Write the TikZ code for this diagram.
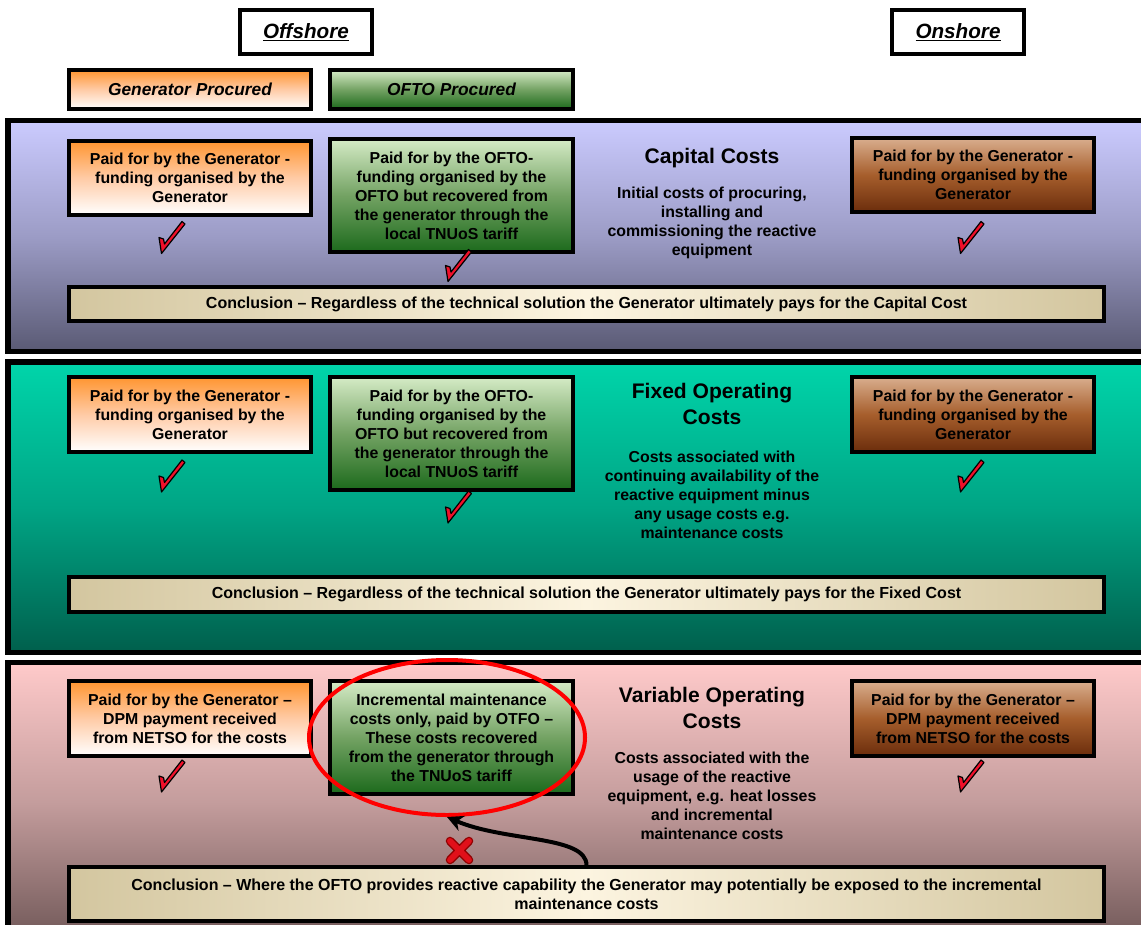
\documentclass[tikz,border=0pt]{standalone}
\usepackage{fontspec}
\setmainfont{Liberation Sans}
\usetikzlibrary{shapes.geometric,arrows.meta}
\definecolor{genT}{HTML}{FF9530}
\definecolor{genM}{HTML}{FFCBA6}
\definecolor{oftoT}{HTML}{D5EBC6}
\definecolor{oftoM}{HTML}{73A263}
\definecolor{oftoB}{HTML}{1C6A1C}
\definecolor{onT}{HTML}{D9AE8E}
\definecolor{onM}{HTML}{A65E2C}
\definecolor{onB}{HTML}{6B2D0C}
\definecolor{pAT}{HTML}{CBCBFF}
\definecolor{pAM}{HTML}{9C9CC6}
\definecolor{pAB}{HTML}{5A5A74}
\definecolor{pBT}{HTML}{00D5AA}
\definecolor{pBM}{HTML}{00A585}
\definecolor{pBB}{HTML}{005F4C}
\definecolor{pCT}{HTML}{FFCACA}
\definecolor{pCM}{HTML}{C39C9C}
\definecolor{pCB}{HTML}{6E5656}
\definecolor{cEdge}{HTML}{D3C69F}
\definecolor{cMid}{HTML}{FCF4E0}
\definecolor{tickred}{HTML}{F0102A}
\definecolor{xred}{HTML}{E0101A}
\definecolor{xdark}{HTML}{900000}
\newcommand\boxfont{\bfseries\fontsize{11.9}{14.25}\selectfont}
\newcommand\titfont{\bfseries\fontsize{15.8}{19.5}\selectfont}
\def\pxu{0.75pt}
\tikzset{
  cbox/.style={draw=black, line width=2.6pt, inner sep=0pt, align=center, font=\boxfont, text=black},
  genbox/.style={cbox, top color=genT, bottom color=white, middle color=genM, minimum width=242*\pxu},
  oftobox/.style={cbox, top color=oftoT, bottom color=oftoB, middle color=oftoM, minimum width=243*\pxu, minimum height=113*\pxu},
  onbox/.style={cbox, top color=onT, bottom color=onB, middle color=onM, minimum width=242*\pxu},
  concbox/.style={cbox, left color=cEdge, right color=cEdge, middle color=cMid, minimum width=1035*\pxu, font=\bfseries\fontsize{12}{14.25}\selectfont},
  hdrbox/.style={draw=black, line width=3pt, fill=white, inner sep=0pt, minimum width=132*\pxu, minimum height=44*\pxu, font=\bfseries\itshape\fontsize{15.5}{18}\selectfont},
  procbox/.style={draw=black, line width=3pt, inner sep=0pt, minimum height=39*\pxu, font=\bfseries\itshape\fontsize{13}{16}\selectfont},
  panel/.style={draw=black, line width=3.9pt},
  titlenode/.style={align=center, font=\titfont, inner sep=0pt},
  descnode/.style={align=center, font=\boxfont, inner sep=0pt},
  checkmk/.pic={\filldraw[fill=tickred, draw=black, line width=0.9pt, line join=round]
      (-13,0) -- (-8.5,1.5) -- (-7.5,6.5) -- (10,-16) -- (13,-13.5) -- (-10.5,16) -- cycle;},
}
\begin{document}
\begin{tikzpicture}[x=0.75pt, y=-0.75pt]
\useasboundingbox (0,0) rectangle (1141,924);
\clip (0,0) rectangle (1141,924);
\fill[white] (0,0) rectangle (1141,924);

% headers
\node[hdrbox] (off) at (306,32) {\underline{Offshore}};
\node[hdrbox] (on) at (958,32) {\underline{Onshore}};
\node[procbox, top color=genT, bottom color=white, middle color=genM, minimum width=242*\pxu] (gp) at (190,89.5) {Generator Procured};
\node[procbox, top color=oftoT, bottom color=oftoB, middle color=oftoM, minimum width=243*\pxu] (op) at (451.5,89.5) {OFTO Procured};

% panels
\draw[panel, top color=pAT, bottom color=pAB, middle color=pAM] (8,120.5) rectangle (1160,351.5);
\draw[panel, top color=pBT, bottom color=pBB, middle color=pBM] (8,362) rectangle (1160,652.5);
\draw[panel, top color=pCT, bottom color=pCB, middle color=pCM] (8,662.5) rectangle (1160,945);

% capital costs
\node[genbox, minimum height=74*\pxu] (cg) at (190,178) {Paid for by the Generator -\\funding organised by the\\Generator};
\node[oftobox] (co) at (451.5,195.5) {Paid for by the OFTO-\\funding organised by the\\OFTO but recovered from\\the generator through the\\local TNUoS tariff};
\node[titlenode] (ct) at (712,158) {Capital Costs};
\node[descnode] (cd) at (712,222.5) {Initial costs of procuring,\\installing and\\commissioning the reactive\\equipment};
\node[onbox, minimum height=74*\pxu] (cn) at (973,175) {Paid for by the Generator -\\funding organised by the\\Generator};
\pic at (172,237.5) {checkmk};
\pic at (458.5,265.5) {checkmk};
\pic at (971,237.5) {checkmk};
\node[concbox, minimum height=34*\pxu] (cc) at (586.5,304) {Conclusion -- Regardless of the technical solution the Generator ultimately pays for the Capital Cost};

% fixed operating costs
\node[genbox, minimum height=75*\pxu] (fg) at (190,414.5) {Paid for by the Generator -\\funding organised by the\\Generator};
\node[oftobox] (fo) at (451.5,433.5) {Paid for by the OFTO-\\funding organised by the\\OFTO but recovered from\\the generator through the\\local TNUoS tariff};
\node[titlenode] (ft) at (712,404) {Fixed Operating\\Costs};
\node[descnode] (fd) at (712,495) {Costs associated with\\continuing availability of the\\reactive equipment minus\\any usage costs e.g.\\maintenance costs};
\node[onbox, minimum height=75*\pxu] (fn) at (973,414.5) {Paid for by the Generator -\\funding organised by the\\Generator};
\pic at (172,476) {checkmk};
\pic at (458.5,507) {checkmk};
\pic at (971,476) {checkmk};
\node[concbox, minimum height=35*\pxu] (fc) at (586.5,594.5) {Conclusion -- Regardless of the technical solution the Generator ultimately pays for the Fixed Cost};

% variable operating costs
\node[genbox, minimum height=75*\pxu] (vg) at (190,718.5) {Paid for by the Generator --\\DPM payment received\\from NETSO for the costs};
\node[oftobox] (vo) at (451.5,737.5) {Incremental maintenance\\costs only, paid by OTFO --\\These costs recovered\\from the generator through\\the TNUoS tariff};
\node[titlenode] (vt) at (712,707.5) {Variable Operating\\Costs};
\node[descnode] (vd) at (712,796) {Costs associated with the\\usage of the reactive\\equipment, e.g. heat losses\\and incremental\\maintenance costs};
\node[onbox, minimum height=75*\pxu] (vn) at (973,718.5) {Paid for by the Generator --\\DPM payment received\\from NETSO for the costs};
\pic at (172,776) {checkmk};
\pic at (971,776) {checkmk};
\node[concbox, minimum height=54*\pxu] (vc) at (586.5,894) {Conclusion -- Where the OFTO provides reactive capability the Generator may potentially be exposed to the incremental\\maintenance costs};

% highlight ring, arrow and cross
\node[ellipse, draw=red, line width=3pt, inner sep=0pt, minimum width=276*\pxu, minimum height=155*\pxu] (ring) at (447,737.5) {};
\draw[line width=3pt, -{Stealth[length=12pt,width=12pt]}] (vc.north) .. controls +(0,-30) and (505,842) .. (ring.south);
\draw[line width=6.4pt, draw=xdark, line cap=round] (450,841) -- (469,860) (450,860) -- (469,841);
\draw[line width=4.4pt, draw=xred, line cap=round] (450,841) -- (469,860) (450,860) -- (469,841);
\end{tikzpicture}
\end{document}
